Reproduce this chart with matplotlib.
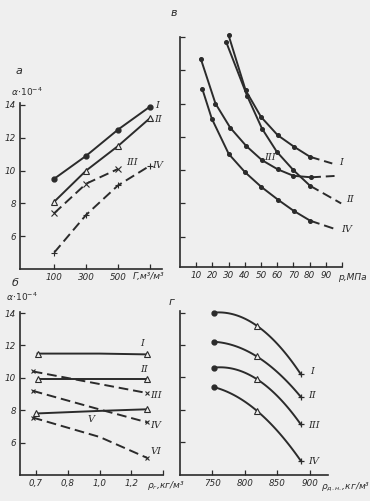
import numpy as np
import matplotlib
matplotlib.use('Agg')
import matplotlib.pyplot as plt

# ---------------- data ----------------
# Panel а : alpha*1e-4 vs Г (m3/m3)
a_x = [100, 300, 500, 700]
a_I = [9.5, 10.9, 12.5, 13.9]
a_II = [8.1, 10.0, 11.5, 13.2]
a_III_x = [100, 300, 500]
a_III = [7.4, 9.2, 10.1]
a_IV = [5.0, 7.3, 9.1, 10.3]
a_xticks = [100, 300, 500, 700]
a_xticklabels = ['100', '300', '500', '']
a_yticks = [6, 8, 10, 12, 14]

# Panel в : alpha vs p (MPa)
v_I_x = [30, 40.5, 50, 60.3, 70.5, 80.3, 94]
v_I = [18.1, 14.8, 13.2, 12.1, 11.4, 10.8, 10.4]
v_II_x = [28.5, 41.5, 50.6, 59.8, 70, 80.3, 99.5]
v_II = [17.7, 14.45, 12.5, 11.1, 10.0, 9.06, 8.0]
v_III_x = [12.8, 21.9, 31, 40.9, 50.6, 60.3, 70, 81, 95.4]
v_III = [16.7, 14.0, 12.55, 11.45, 10.6, 10.05, 9.66, 9.57, 9.65]
v_IV_x = [13.7, 19.6, 30.1, 40.2, 50.1, 60.8, 70.1, 80.4, 96.4]
v_IV = [14.9, 13.1, 10.97, 9.87, 9.0, 8.2, 7.56, 6.96, 6.44]
v_xticks = [10, 20, 30, 40, 50, 60, 70, 80, 90, 100]
v_xticklabels = ['10', '20', '30', '40', '50', '60', '70', '80', '90', '']
v_yticks = [6, 8, 10, 12, 14, 16, 18]

# Panel б : alpha vs rho_g (kg/m3)  (tick positions with printed labels)
b_xticks = [0.6, 0.8, 1.0, 1.2, 1.4]
b_xticklabels = ['0,7', '0,8', '1,0', '1,2', '']
b_yticks = [6, 8, 10, 12, 14]
b_I_x = [0.61, 1.0, 1.3]
b_I = [11.5, 11.5, 11.45]
b_II_x = [0.61, 1.0, 1.3]
b_II = [9.92, 9.92, 9.92]
b_III_x = [0.58, 1.3]
b_III = [10.4, 9.06]
b_IV_x = [0.58, 1.0, 1.3]
b_IV = [9.2, 8.05, 7.25]
b_V_x = [0.6, 1.0, 1.3]
b_V = [7.8, 7.96, 8.06]
b_VI_x = [0.58, 1.0, 1.3]
b_VI = [7.55, 6.35, 5.05]

# Panel г : alpha vs rho_dn (kg/m3)
g_x = [752, 818, 886]
g_I = [14.0, 13.2, 10.2]
g_II = [12.2, 11.3, 8.8]
g_III = [10.6, 9.9, 7.1]
g_IV = [9.4, 7.95, 4.85]
g_xticks = [750, 800, 850, 900]
g_xticklabels = ['750', '800', '850', '900']
g_yticks = [6, 8, 10, 12, 14]

# ---------------- style ----------------
W, H = 370, 501
BG = '#efefef'
INK = '#2b2b2b'
plt.rcParams['font.family'] = ['DejaVu Sans']
fig = plt.figure(figsize=(W / 100, H / 100), dpi=100, facecolor=BG)


def add_ax(l, t, r, b):
    ax = fig.add_axes([l / W, 1 - b / H, (r - l) / W, (b - t) / H])
    ax.set_facecolor(BG)
    for s in ('top', 'right'):
        ax.spines[s].set_visible(False)
    for s in ('left', 'bottom'):
        ax.spines[s].set_linewidth(1.2)
        ax.spines[s].set_color(INK)
    ax.tick_params(direction='in', length=3.5, width=0.9, color=INK,
                   labelsize=6.3, labelcolor=INK, pad=3)
    return ax


def ftext(x, y, s, size=7, ha='center', va='center', **kw):
    fig.text(x / W, 1 - y / H, s, fontsize=size, ha=ha, va=va,
             color=INK, style='italic', **kw)


def italic_ticks(ax):
    for lab in ax.get_xticklabels() + ax.get_yticklabels():
        lab.set_style('italic')


lw = 1.4
dash = (0, (5, 2.5))
NC = dict(clip_on=False)

# ---------------- panel а ----------------
ax = add_ax(20, 103, 162, 269)
ax.set_xlim(-114, 775)
ax.set_ylim(4, 14.12)
ax.plot(a_x, a_I, color=INK, lw=lw, marker='o', ms=3.5, **NC)
ax.plot(a_x, a_II, color=INK, lw=lw, marker='^', ms=4, mfc=BG, mew=0.8, **NC)
ax.plot(a_III_x, a_III, color=INK, lw=lw, ls=dash, marker='x', ms=4, mew=0.8)
ax.plot(a_x, a_IV, color=INK, lw=lw, ls=dash, marker='+', ms=5, mew=0.8)
ax.set_xticks(a_xticks)
ax.set_xticklabels(a_xticklabels)
ax.set_yticks(a_yticks)
italic_ticks(ax)

# ---------------- panel в ----------------
ax = add_ax(180, 37, 342, 267)
ax.set_xlim(0, 100)
ax.set_ylim(4.18, 18)
for xs, ys in ((v_I_x, v_I), (v_II_x, v_II), (v_III_x, v_III), (v_IV_x, v_IV)):
    ax.plot(xs[:-1], ys[:-1], color=INK, lw=lw, marker='o', ms=2.6, **NC)
    ax.plot(xs[-2:], ys[-2:], color=INK, lw=lw, ls=dash, **NC)
ax.set_xticks(v_xticks)
ax.set_xticklabels(v_xticklabels)
ax.set_yticks(v_yticks)
ax.set_yticklabels([])
italic_ticks(ax)

# ---------------- panel б ----------------
ax = add_ax(20, 311.5, 163.3, 475)
ax.set_xlim(0.5, 1.4)
ax.set_ylim(4, 14.1)
tri = dict(marker='^', ms=4, mfc=BG, mew=0.8, markevery=[0, -1])
crs = dict(marker='x', ms=3.5, mew=0.8, markevery=[0, -1])
ax.plot(b_I_x, b_I, color=INK, lw=lw, **tri)
ax.plot(b_II_x, b_II, color=INK, lw=lw, **tri)
ax.plot(b_III_x, b_III, color=INK, lw=lw, ls=dash, **crs)
ax.plot(b_IV_x, b_IV, color=INK, lw=lw, ls=dash, **crs)
ax.plot(b_V_x, b_V, color=INK, lw=lw, **tri)
ax.plot(b_VI_x, b_VI, color=INK, lw=lw, ls=dash, **crs)
ax.set_xticks(b_xticks)
ax.set_xticklabels(b_xticklabels)
ax.set_yticks(b_yticks)
italic_ticks(ax)

# ---------------- panel г ----------------
ax = add_ax(180, 311, 328, 474.5)
ax.set_xlim(700, 928)
ax.set_ylim(4, 14.1)
for ys in (g_I, g_II, g_III, g_IV):
    c = np.polyfit(g_x, ys, 2)
    xs = np.linspace(g_x[0], g_x[-1], 60)
    ax.plot(xs, np.polyval(c, xs), color=INK, lw=lw, **NC)
    ax.plot(g_x[0], ys[0], 'o', color=INK, ms=3.5, **NC)
    ax.plot(g_x[1], ys[1], '^', color=INK, ms=4, mfc=BG, mew=0.8)
    ax.plot(g_x[2], ys[2], '+', color=INK, ms=5, mew=0.9)
ax.set_xticks(g_xticks)
ax.set_xticklabels(g_xticklabels)
ax.set_yticks(g_yticks)
ax.set_yticklabels([])
italic_ticks(ax)

# ---------------- texts ----------------
serif = dict(family='DejaVu Serif')
# panel letters
ftext(19, 71, 'а', size=8)
ftext(174, 13, 'в', size=8)
ftext(15, 283, 'б', size=8)
ftext(172, 302, 'г', size=8)
# y-axis titles
ftext(27, 92, r'$\alpha\!\cdot\!10^{-4}$', size=6.5)
ftext(22, 297, r'$\alpha\!\cdot\!10^{-4}$', size=6.5)
# x-axis titles
ftext(149, 277, 'Г,м³/м³', size=6.5)
ftext(352, 278, 'р,МПа', size=6.5)
ftext(166, 485, 'ρ$_г$,кг/м³', size=6.5)
ftext(346, 487, 'ρ$_{д.н.}$,кг/м³', size=6.5)

# curve labels а
ftext(157, 106, 'I', **serif)
ftext(158, 119, 'II', **serif)
ftext(132, 163, 'III', **serif)
ftext(158, 165, 'IV', **serif)
# curve labels в
ftext(341, 163, 'I', **serif)
ftext(350, 200, 'II', **serif)
ftext(270, 157, 'III', **serif)
ftext(347, 229, 'IV', **serif)
# curve labels б
ftext(142, 343, 'I', **serif)
ftext(144, 370, 'II', **serif)
ftext(156, 395, 'III', **serif)
ftext(156, 425, 'IV', **serif)
ftext(91, 420, 'V', **serif)
ftext(156, 451, 'VI', **serif)
# curve labels г
ftext(312, 372, 'I', **serif)
ftext(312, 396, 'II', **serif)
ftext(314, 425, 'III', **serif)
ftext(314, 461, 'IV', **serif)

fig.savefig('out.png', dpi=100, facecolor=BG)
